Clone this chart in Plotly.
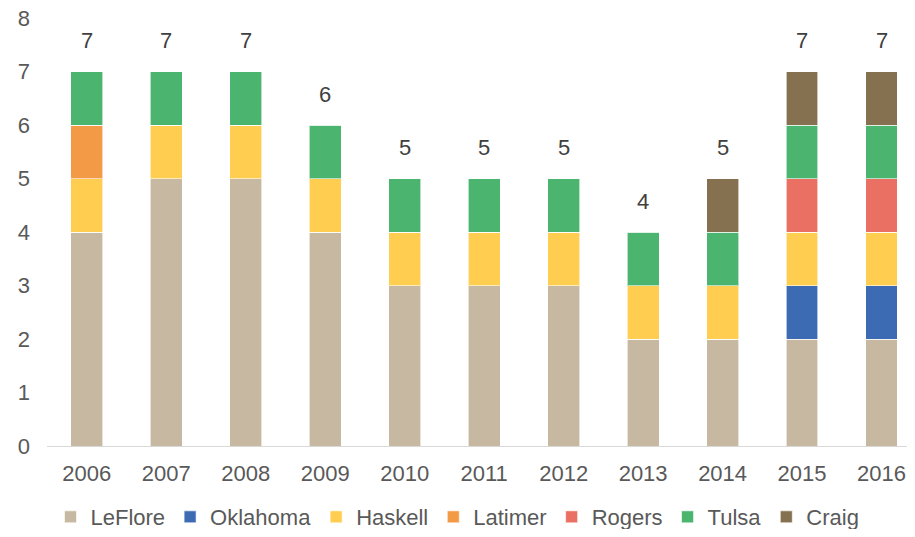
import plotly.graph_objects as go

years = ["2006", "2007", "2008", "2009", "2010", "2011", "2012", "2013", "2014", "2015", "2016"]
leflore = [4, 5, 5, 4, 3, 3, 3, 2, 2, 2, 2]
oklahoma = [0, 0, 0, 0, 0, 0, 0, 0, 0, 1, 1]
haskell = [1, 1, 1, 1, 1, 1, 1, 1, 1, 1, 1]
latimer = [1, 0, 0, 0, 0, 0, 0, 0, 0, 0, 0]
rogers = [0, 0, 0, 0, 0, 0, 0, 0, 0, 1, 1]
tulsa = [1, 1, 1, 1, 1, 1, 1, 1, 1, 1, 1]
craig = [0, 0, 0, 0, 0, 0, 0, 0, 1, 1, 1]

series = [
    ("LeFlore", leflore, "#C7B8A2"),
    ("Oklahoma", oklahoma, "#3D6BB3"),
    ("Haskell", haskell, "#FFCD50"),
    ("Latimer", latimer, "#F39A47"),
    ("Rogers", rogers, "#E97062"),
    ("Tulsa", tulsa, "#4BB46F"),
    ("Craig", craig, "#857050"),
]

fig = go.Figure()
for name, vals, color in series:
    fig.add_trace(go.Bar(
        x=years, y=vals, name=name, width=0.4,
        marker=dict(color=color, line=dict(color="rgba(255,255,255,0.6)", width=1)),
    ))

# totals above each stack (x by index, since numeric-looking strings confuse category lookup)
totals = [sum(v) for v in zip(*[s[1] for s in series])]
for i, tot in enumerate(totals):
    fig.add_annotation(x=i, y=tot, text=str(tot), showarrow=False, yshift=31,
                       font=dict(size=22, color="#404040"))

# page has an 8px body margin, so the figure is shrunk to fit inside the window
fig.update_layout(
    barmode="stack",
    width=899, height=521,
    margin=dict(l=39, r=0, t=10, b=83),
    plot_bgcolor="white", paper_bgcolor="white",
    font=dict(family="Liberation Sans, Arial, sans-serif", size=22, color="#595959"),
    xaxis=dict(type="category", range=[-0.5, 10.32], showline=True, linecolor="#D9D9D9",
               linewidth=1, ticks="", ticklabelstandoff=8, automargin=False),
    yaxis=dict(range=[0, 8], dtick=1, showgrid=False, zeroline=False, showline=False,
               ticks="", ticklabelstandoff=16, automargin=False,
               ticklabeloverflow="allow"),
    legend=dict(orientation="h", xref="container", yref="container",
                x=0.5, xanchor="center", y=0.023, yanchor="middle",
                itemwidth=30, traceorder="normal"),
)

fig.write_html("out.html")
